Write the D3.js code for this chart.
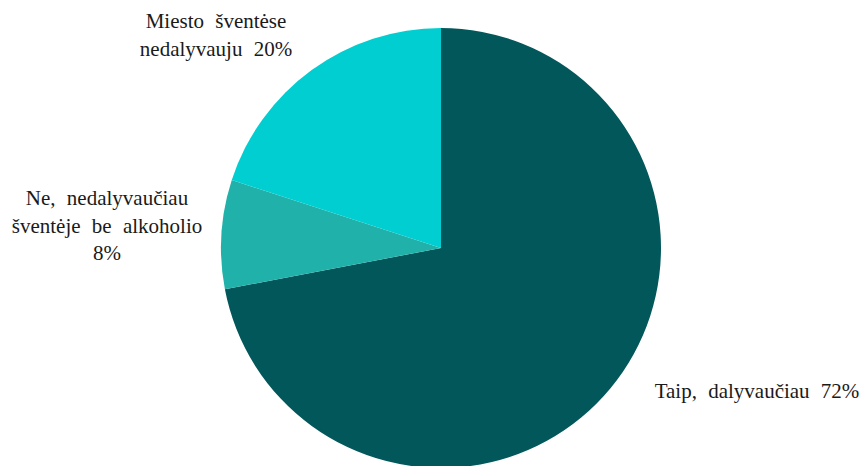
<!DOCTYPE html>
<html>
<head>
<meta charset="utf-8">
<script src="https://cdn.jsdelivr.net/npm/d3@7"></script>
<style>
  html, body { margin: 0; padding: 0; background: #fff; }
  #wrap { position: relative; width: 864px; height: 466px; overflow: hidden; }
  #chart { position: absolute; left: 0; top: 0; }
  .lbl {
    position: absolute;
    font-family: "Liberation Serif", "Times New Roman", Tinos, FreeSerif !important;
    font-size: 21px;
    line-height: 27.5px;
    word-spacing: 6px;
    color: #1a1a1a;
    white-space: nowrap;
    text-align: center;
    transform: translateX(-50%);
  }
</style>
</head>
<body>
<div id="wrap">
<svg id="chart" width="864" height="466"></svg>
</div>
<script>
const categories = ["Taip, dalyvaučiau", "Ne, nedalyvaučiau šventėje be alkoholio", "Miesto šventėse nedalyvauju"];
const values = [72, 8, 20];
const colors = ["#02575B", "#20B2AA", "#00CED1"];
const labelLines = [
  ["Taip, dalyvaučiau 72%"],
  ["Ne, nedalyvaučiau", "šventėje be alkoholio", "8%"],
  ["Miesto šventėse", "nedalyvauju 20%"]
];

// layout (not data): label centre x and first-line baseline y
const cx = 441, cy = 248, radius = 220;
const labelLayout = [
  { x: 757, y: 399 },
  { x: 107, y: 206 },
  { x: 216, y: 29 }
];
const baselineOffset = 20.8;

const svg = d3.select("#chart");
const g = svg.append("g").attr("transform", `translate(${cx},${cy})`);

const pie = d3.pie().sort(null).value(d => d)(values);
const arc = d3.arc().innerRadius(0).outerRadius(radius);

g.selectAll("path.slice")
  .data(pie)
  .join("path")
  .attr("class", "slice")
  .attr("d", arc)
  .attr("fill", (d, i) => colors[i]);

const wrap = d3.select("#wrap");
labelLines.forEach((lines, i) => {
  const div = wrap.append("div")
    .attr("class", "lbl")
    .style("left", labelLayout[i].x + "px")
    .style("top", (labelLayout[i].y - baselineOffset) + "px");
  lines.forEach((l, j) => {
    if (j > 0) div.append("br");
    div.append("span").text(l);
  });
});
</script>
</body>
</html>
